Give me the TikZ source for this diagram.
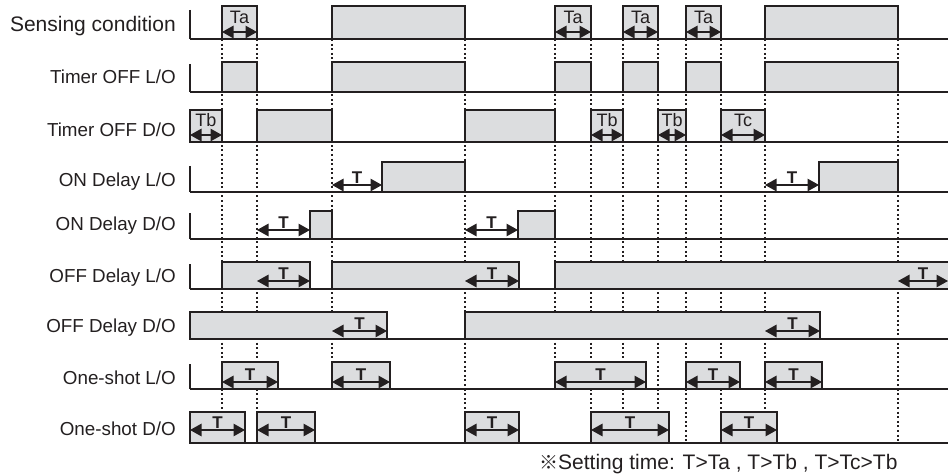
\documentclass[tikz,border=0pt]{standalone}
\usepackage{fontspec}
\setmainfont{Liberation Sans}
\newfontfamily\cjkfont{Noto Sans CJK JP}
\usetikzlibrary{arrows.meta}
\definecolor{ink}{HTML}{231F20}
\definecolor{boxfill}{HTML}{DCDDDF}
\newcommand\pulse[4]{\draw[sig] (#1,#4) rectangle (#2,#3);}
\newcommand\dimT[4]{\draw[dim] (#1,#3) -- (#2,#3);
  \path ({(#1+#2)/2},{#3-2}) node[tlab] {#4};}
\newcommand\dimA[5]{\draw[dim] (#1,#3) -- (#2,#3);
  \path ({(#1+#2)/2},#4) node[tx] {#5};}
\begin{document}
\begin{tikzpicture}[x=1pt,y=-1pt,
  sig/.style={draw=ink,fill=boxfill,line width=1.3pt},
  baseln/.style={draw=ink,line width=1.2pt},
  guide/.style={draw=ink,line width=1.2pt,dash pattern=on 2pt off 2.6pt},
  dim/.style={draw=ink,line width=1.2pt,{Triangle[length=11.5pt,width=12.5pt]}-{Triangle[length=11.5pt,width=12.5pt]}},
  rowlabel/.style={anchor=base east,inner sep=0pt,font=\fontsize{18.8}{20}\selectfont,text=ink},
  tlab/.style={anchor=base,inner sep=0pt,font=\bfseries\fontsize{17}{18}\selectfont,text=ink},
  tx/.style={anchor=base,inner sep=0pt,font=\fontsize{18}{18}\selectfont,text=ink},
]
\useasboundingbox (0,0) rectangle (948,476);
% guide lines
\foreach \x/\e in {222/412,257/412,332/362,465/412,555/362,591/412,623/412,658/412,686/443,721/412,765/412,898/443}
  \draw[guide] (\x,39) -- (\x,\e);
% baselines
\foreach \y in {39,92,142,192,239,289,339,389,443}
  \draw[baseln] (190,\y) -- (948,\y);
\foreach \a/\b in {10/39,64/92,166/192,213/239,264/289,364/389}
  \draw[baseln] (190,\a) -- (190,\b);
% labels
\node[rowlabel,font=\fontsize{21}{22}\selectfont] (l1) at (176,31.7) {Sensing condition};
\node[rowlabel] (l2) at (176,83.3) {Timer OFF L/O};
\node[rowlabel] (l3) at (176,136.7) {Timer OFF D/O};
\node[rowlabel] (l4) at (176,186) {ON Delay L/O};
\node[rowlabel] (l5) at (176,230.7) {ON Delay D/O};
\node[rowlabel] (l6) at (176,282.7) {OFF Delay L/O};
\node[rowlabel] (l7) at (176,332.7) {OFF Delay D/O};
\node[rowlabel] (l8) at (176,384) {One-shot L/O};
\node[rowlabel] (l9) at (176,435) {One-shot D/O};
% row 1
\foreach \a/\b in {222/257,332/465,555/591,623/658,686/721,765/898} {\pulse{\a}{\b}{6}{39}}
\foreach \a/\b in {222/257,555/591,623/658,686/721} {\dimA{\a}{\b}{32}{23.5}{Ta}}
% row 2
\foreach \a/\b in {222/257,332/465,555/591,623/658,686/721,765/898} {\pulse{\a}{\b}{62}{92}}
% row 3
\foreach \a/\b in {190/222,257/332,465/555,591/623,658/686,721/765} {\pulse{\a}{\b}{110}{142}}
\foreach \a/\b in {190/222,591/623,658/686} {\dimA{\a}{\b}{135}{127}{Tb}}
\dimA{721}{765}{135}{127}{Tc}
% row 4
\pulse{382}{465}{162}{192}
\pulse{819}{898}{162}{192}
\dimT{332}{382}{185}{T}
\dimT{765}{819}{185}{T}
% row 5
\pulse{310}{332}{211}{239}
\pulse{518}{555}{211}{239}
\dimT{257}{310}{230}{T}
\dimT{465}{518}{230}{T}
% row 6
\pulse{222}{310}{262}{289}
\pulse{332}{519}{262}{289}
\fill[boxfill] (555,262) rectangle (948,289);
\draw[sig,fill=none] (555,289) -- (555,262) -- (948,262);
\draw[baseln] (555,289) -- (948,289);
\dimT{257}{310}{281}{T}
\dimT{465}{519}{281}{T}
\dimT{898}{948}{281}{T}
% row 7
\pulse{190}{387}{312}{339}
\pulse{465}{820}{312}{339}
\dimT{332}{387}{331}{T}
\dimT{765}{820}{331}{T}
% row 8
\foreach \a/\b in {222/278,332/390,555/646,686/740,765/822} {\pulse{\a}{\b}{362}{389}\dimT{\a}{\b}{382}{T}}
% row 9
\foreach \a/\b in {190/245,257/315,465/519,591/669,721/777} {\pulse{\a}{\b}{412}{443}\dimT{\a}{\b}{430}{T}}
% note
\node[anchor=base west,inner sep=0pt,font=\fontsize{21}{22}\selectfont,text=ink] (note) at (539,469) {{\cjkfont\fontsize{19}{20}\selectfont ※}Setting time: T>Ta , T>Tb , T>Tc>Tb};
\end{tikzpicture}
\end{document}
